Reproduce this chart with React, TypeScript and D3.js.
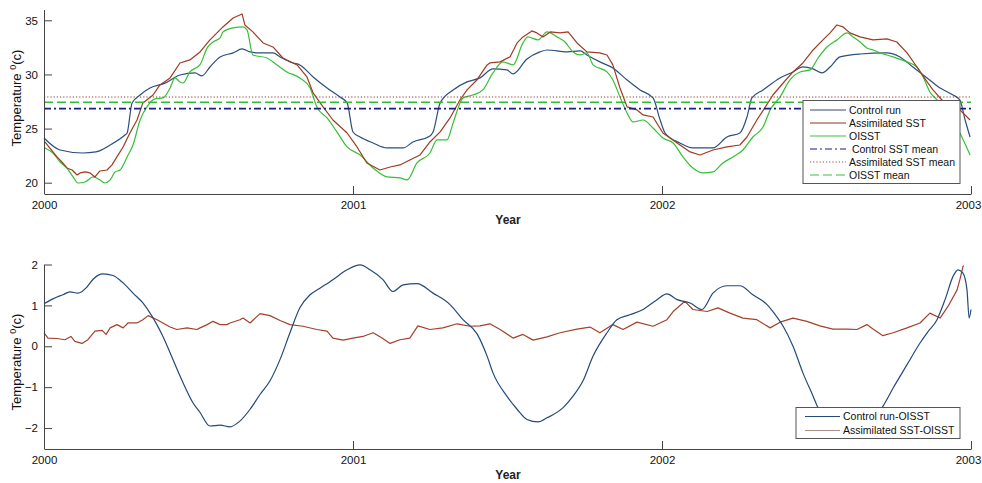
import * as d3 from "d3";
import React, { useRef, useEffect } from "react";

// x ticks (years) and y ticks for both panels
const years = [2000, 2001, 2002, 2003];
const tempTicks = [20, 25, 30, 35];
const diffTicks = [-2, -1, 0, 1, 2];

// top panel: SST time series [decimal year, degC]
const controlRun: [number, number][] = [
  [2000.0, 24.13], [2000.052, 23.02], [2000.126, 22.74], [2000.168, 22.84], [2000.214, 23.48],
  [2000.262, 24.41], [2000.269, 24.59], [2000.285, 27.37], [2000.311, 28.1], [2000.343, 28.75],
  [2000.392, 29.2], [2000.44, 29.95], [2000.489, 30.14], [2000.511, 29.86], [2000.537, 30.69],
  [2000.57, 31.62], [2000.612, 31.99], [2000.641, 32.36], [2000.667, 32.08], [2000.693, 31.99],
  [2000.741, 31.99], [2000.764, 31.62], [2000.806, 31.06], [2000.828, 30.88], [2000.871, 29.77],
  [2000.916, 28.75], [2000.958, 27.92], [2000.981, 27.37], [2001.0, 24.68], [2001.023, 24.22],
  [2001.065, 23.67], [2001.11, 23.21], [2001.162, 23.21], [2001.194, 23.76], [2001.249, 24.32],
  [2001.259, 24.68], [2001.282, 27.37], [2001.324, 28.57], [2001.369, 29.31], [2001.411, 29.68],
  [2001.453, 30.51], [2001.498, 30.42], [2001.518, 30.05], [2001.563, 31.43], [2001.605, 32.08],
  [2001.628, 32.26], [2001.693, 32.08], [2001.735, 32.17], [2001.757, 31.8], [2001.799, 31.16],
  [2001.841, 30.6], [2001.887, 29.49], [2001.929, 28.57], [2001.971, 27.83], [2001.994, 25.79],
  [2002.01, 24.59], [2002.058, 23.67], [2002.1, 23.21], [2002.165, 23.21], [2002.21, 24.22],
  [2002.252, 24.59], [2002.275, 26.07], [2002.291, 27.83], [2002.327, 28.57], [2002.382, 29.68],
  [2002.424, 30.23], [2002.456, 30.69], [2002.489, 30.51], [2002.518, 30.14], [2002.544, 30.69],
  [2002.576, 31.62], [2002.641, 31.89], [2002.728, 31.99], [2002.77, 31.62], [2002.812, 30.69],
  [2002.858, 29.68], [2002.9, 28.75], [2002.942, 28.1], [2002.964, 27.64], [2002.981, 25.79],
  [2002.997, 24.22],
];

const assimilatedSst: [number, number][] = [
  [2000.003, 23.76], [2000.019, 23.2], [2000.042, 22.38], [2000.058, 21.91], [2000.074, 21.36],
  [2000.091, 21.17], [2000.107, 20.71], [2000.117, 20.9], [2000.133, 20.99], [2000.149, 20.9],
  [2000.165, 20.53], [2000.181, 21.08], [2000.204, 21.17], [2000.22, 21.64], [2000.236, 22.38],
  [2000.256, 23.3], [2000.278, 24.59], [2000.301, 25.79], [2000.32, 27.37], [2000.353, 28.1],
  [2000.375, 29.03], [2000.408, 29.68], [2000.44, 31.06], [2000.472, 31.34], [2000.505, 32.08],
  [2000.537, 33.19], [2000.547, 33.47], [2000.579, 34.39], [2000.612, 35.22], [2000.641, 35.59],
  [2000.65, 34.57], [2000.676, 33.93], [2000.709, 32.91], [2000.741, 32.54], [2000.773, 31.52],
  [2000.819, 30.88], [2000.851, 29.77], [2000.871, 28.29], [2000.903, 27.0], [2000.935, 25.79],
  [2000.981, 24.59], [2001.013, 23.3], [2001.045, 21.82], [2001.087, 21.17], [2001.12, 21.45],
  [2001.152, 21.64], [2001.184, 22.1], [2001.217, 22.56], [2001.249, 23.76], [2001.282, 24.69],
  [2001.314, 25.98], [2001.346, 27.64], [2001.369, 28.57], [2001.401, 29.49], [2001.434, 30.88],
  [2001.443, 31.06], [2001.476, 31.16], [2001.508, 31.62], [2001.531, 32.91], [2001.55, 33.47],
  [2001.579, 34.02], [2001.595, 33.84], [2001.615, 33.47], [2001.638, 33.93], [2001.67, 33.84],
  [2001.696, 33.93], [2001.725, 32.91], [2001.757, 32.08], [2001.799, 31.99], [2001.822, 31.8],
  [2001.841, 30.88], [2001.864, 28.75], [2001.887, 27.0], [2001.919, 26.72], [2001.939, 26.26],
  [2001.971, 26.07], [2002.003, 24.59], [2002.049, 23.67], [2002.091, 22.84], [2002.123, 22.56],
  [2002.165, 23.02], [2002.21, 23.3], [2002.252, 23.48], [2002.275, 24.22], [2002.307, 25.79],
  [2002.33, 26.8], [2002.359, 28.1], [2002.392, 29.21], [2002.424, 30.23], [2002.456, 31.06],
  [2002.489, 32.26], [2002.521, 33.19], [2002.544, 33.84], [2002.566, 34.57], [2002.586, 34.39],
  [2002.608, 33.84], [2002.641, 33.47], [2002.683, 33.19], [2002.728, 33.28], [2002.76, 33.0],
  [2002.793, 31.99], [2002.825, 30.69], [2002.858, 29.31], [2002.877, 28.57], [2002.906, 27.64],
  [2002.964, 26.72], [2002.997, 25.79],
];

const oisst: [number, number][] = [
  [2000.003, 23.21], [2000.029, 22.74], [2000.052, 21.91], [2000.074, 21.36], [2000.094, 20.53],
  [2000.11, 19.97], [2000.133, 20.06], [2000.159, 20.53], [2000.181, 20.25], [2000.197, 19.97],
  [2000.214, 20.25], [2000.23, 20.99], [2000.246, 21.17], [2000.269, 22.38], [2000.288, 23.48],
  [2000.311, 25.79], [2000.333, 27.0], [2000.359, 27.74], [2000.385, 27.83], [2000.408, 28.75],
  [2000.424, 29.68], [2000.44, 29.31], [2000.45, 29.21], [2000.472, 30.23], [2000.505, 30.9],
  [2000.528, 32.45], [2000.547, 33.0], [2000.57, 33.37], [2000.579, 33.93], [2000.612, 34.3],
  [2000.644, 34.39], [2000.657, 34.11], [2000.676, 31.8], [2000.722, 31.52], [2000.754, 30.88],
  [2000.786, 30.23], [2000.828, 29.68], [2000.861, 28.75], [2000.883, 27.0], [2000.916, 25.98],
  [2000.948, 24.69], [2000.981, 23.3], [2001.023, 22.56], [2001.065, 21.36], [2001.11, 20.53],
  [2001.152, 20.44], [2001.175, 20.25], [2001.207, 21.82], [2001.249, 22.74], [2001.272, 23.95],
  [2001.304, 23.95], [2001.324, 25.52], [2001.356, 27.83], [2001.388, 28.1], [2001.421, 28.6],
  [2001.453, 30.14], [2001.485, 31.16], [2001.518, 30.88], [2001.55, 32.91], [2001.566, 33.47],
  [2001.599, 33.19], [2001.628, 33.93], [2001.66, 33.47], [2001.686, 33.0], [2001.712, 32.08],
  [2001.735, 31.8], [2001.757, 31.99], [2001.777, 30.88], [2001.822, 30.23], [2001.841, 29.49],
  [2001.864, 27.92], [2001.887, 26.44], [2001.906, 25.61], [2001.939, 25.79], [2001.971, 25.05],
  [2002.003, 24.13], [2002.036, 23.67], [2002.068, 22.38], [2002.1, 21.36], [2002.133, 20.9],
  [2002.165, 20.99], [2002.197, 21.82], [2002.23, 22.38], [2002.262, 23.02], [2002.294, 24.22],
  [2002.327, 25.15], [2002.35, 26.72], [2002.382, 27.92], [2002.414, 29.49], [2002.447, 30.23],
  [2002.479, 30.42], [2002.505, 31.52], [2002.534, 32.54], [2002.566, 33.19], [2002.599, 33.84],
  [2002.618, 33.47], [2002.641, 33.0], [2002.663, 32.45], [2002.683, 32.26], [2002.706, 31.99],
  [2002.748, 31.62], [2002.793, 31.16], [2002.825, 30.69], [2002.845, 29.77], [2002.867, 28.38],
  [2002.89, 27.64], [2002.964, 24.59], [2002.997, 22.56],
];

// horizontal mean lines
const controlMean = 26.84;
const assimilatedMean = 27.92;
const oisstMean = 27.43;

// bottom panel: differences against OISST
const controlMinusOisst: [number, number][] = [
  [2000.0, 1.04], [2000.029, 1.16], [2000.061, 1.26], [2000.084, 1.33], [2000.11, 1.3],
  [2000.139, 1.45], [2000.159, 1.64], [2000.191, 1.77], [2000.223, 1.73], [2000.256, 1.55],
  [2000.288, 1.3], [2000.32, 1.06], [2000.35, 0.73], [2000.385, 0.24], [2000.417, -0.32],
  [2000.45, -0.89], [2000.482, -1.38], [2000.505, -1.62], [2000.537, -1.95], [2000.57, -1.93],
  [2000.602, -1.97], [2000.634, -1.83], [2000.667, -1.54], [2000.699, -1.18], [2000.731, -0.85],
  [2000.764, -0.32], [2000.796, 0.33], [2000.828, 0.94], [2000.861, 1.26], [2000.893, 1.42],
  [2000.935, 1.63], [2000.981, 1.87], [2001.023, 1.99], [2001.055, 1.87], [2001.097, 1.63],
  [2001.129, 1.34], [2001.162, 1.5], [2001.207, 1.53], [2001.259, 1.3], [2001.314, 1.02],
  [2001.356, 0.65], [2001.401, 0.31], [2001.434, -0.24], [2001.453, -0.65], [2001.498, -1.22],
  [2001.531, -1.54], [2001.563, -1.79], [2001.599, -1.85], [2001.628, -1.75], [2001.68, -1.5],
  [2001.712, -1.22], [2001.744, -0.85], [2001.777, -0.24], [2001.822, 0.33], [2001.854, 0.65],
  [2001.896, 0.77], [2001.939, 0.9], [2001.984, 1.14], [2002.016, 1.28], [2002.049, 1.14],
  [2002.091, 1.06], [2002.129, 0.9], [2002.165, 1.3], [2002.21, 1.48], [2002.252, 1.48],
  [2002.294, 1.26], [2002.34, 1.02], [2002.359, 0.85], [2002.382, 0.61], [2002.392, 0.49],
  [2002.424, 0.0], [2002.456, -0.65], [2002.489, -1.22], [2002.505, -1.5], [2002.56, -1.85],
  [2002.608, -2.0], [2002.66, -1.85], [2002.712, -1.5], [2002.748, -1.02], [2002.793, -0.45],
  [2002.835, 0.08], [2002.858, 0.33], [2002.89, 0.65], [2002.916, 1.14], [2002.942, 1.71],
  [2002.958, 1.87], [2002.974, 1.79], [2002.987, 1.38], [2002.994, 0.69], [2003.0, 0.9],
];

const assimilatedMinusOisst: [number, number][] = [
  [2000.0, 0.33], [2000.013, 0.2], [2000.042, 0.19], [2000.068, 0.16], [2000.087, 0.24],
  [2000.1, 0.12], [2000.123, 0.07], [2000.142, 0.16], [2000.165, 0.37], [2000.188, 0.39],
  [2000.201, 0.29], [2000.214, 0.45], [2000.236, 0.53], [2000.256, 0.45], [2000.272, 0.57],
  [2000.301, 0.57], [2000.32, 0.65], [2000.337, 0.75], [2000.366, 0.65], [2000.385, 0.57],
  [2000.408, 0.47], [2000.43, 0.41], [2000.463, 0.45], [2000.495, 0.41], [2000.505, 0.45],
  [2000.528, 0.53], [2000.547, 0.61], [2000.57, 0.53], [2000.592, 0.53], [2000.602, 0.57],
  [2000.634, 0.65], [2000.644, 0.69], [2000.667, 0.57], [2000.699, 0.8], [2000.731, 0.75],
  [2000.764, 0.63], [2000.796, 0.53], [2000.838, 0.49], [2000.883, 0.41], [2000.916, 0.37],
  [2000.935, 0.2], [2000.968, 0.15], [2001.0, 0.2], [2001.032, 0.24], [2001.065, 0.33],
  [2001.094, 0.2], [2001.12, 0.07], [2001.152, 0.16], [2001.184, 0.2], [2001.21, 0.5],
  [2001.249, 0.41], [2001.291, 0.45], [2001.337, 0.55], [2001.379, 0.49], [2001.411, 0.5],
  [2001.443, 0.55], [2001.476, 0.41], [2001.518, 0.2], [2001.55, 0.29], [2001.583, 0.15],
  [2001.628, 0.23], [2001.67, 0.33], [2001.725, 0.42], [2001.767, 0.47], [2001.799, 0.33],
  [2001.841, 0.53], [2001.874, 0.41], [2001.919, 0.59], [2001.971, 0.49], [2002.016, 0.65],
  [2002.036, 0.85], [2002.074, 1.1], [2002.1, 0.9], [2002.146, 0.85], [2002.181, 0.94],
  [2002.22, 0.81], [2002.262, 0.69], [2002.307, 0.65], [2002.35, 0.45], [2002.382, 0.59],
  [2002.424, 0.69], [2002.469, 0.61], [2002.511, 0.5], [2002.553, 0.42], [2002.599, 0.42],
  [2002.631, 0.41], [2002.663, 0.53], [2002.683, 0.42], [2002.715, 0.26], [2002.748, 0.33],
  [2002.793, 0.45], [2002.835, 0.57], [2002.867, 0.81], [2002.9, 0.69], [2002.926, 0.98],
  [2002.955, 1.38], [2002.964, 1.63], [2002.974, 1.95], [2002.977, 1.97],
];

const FONT = "Liberation Sans, Arial, Helvetica, sans-serif";

const App = () => {
  const svgRef = useRef<SVGSVGElement>(null);

  useEffect(() => {
    const svg = d3.select(svgRef.current);
    svg.selectAll("*").remove();

    const x = d3.scaleLinear().domain([2000, 2003]).range([44, 971]);

    const drawPanel = (opts: any) => {
      const { y, ticks, series, means, legend, yLabelY, labelTop } = opts;
      const [bottom] = y.range();
      const g = svg.append("g");

      // series
      series.forEach((s: any) => {
        const line = d3
          .line<[number, number]>()
          .x((d) => x(d[0]))
          .y((d) => y(d[1]))
          .curve(s.curve || d3.curveLinear);
        g.append("path")
          .datum(s.data)
          .attr("d", line)
          .attr("fill", "none")
          .attr("stroke", s.color)
          .attr("stroke-width", 1.2)
          .attr("stroke-linejoin", "round");
      });

      // mean lines
      means.forEach((m: any) => {
        g.append("line")
          .attr("x1", x(2000))
          .attr("x2", x(2003))
          .attr("y1", y(m.value))
          .attr("y2", y(m.value))
          .attr("stroke", m.color)
          .attr("stroke-width", m.width)
          .attr("stroke-dasharray", m.dash);
      });

      // axes, ticks pointing inward
      const yAxis = g
        .append("g")
        .attr("transform", `translate(${x(2000)},0)`)
        .call(
          d3.axisLeft(y).tickValues(ticks).tickFormat(d3.format("d")).tickSize(-8).tickSizeOuter(0).tickPadding(6)
        );
      const xAxis = g
        .append("g")
        .attr("transform", `translate(0,${Math.round(bottom)})`)
        .call(
          d3.axisBottom(x).tickValues(years).tickFormat(d3.format("d")).tickSize(-8).tickSizeOuter(0).tickPadding(7)
        );
      [yAxis, xAxis].forEach((a) => {
        a.select(".domain").attr("stroke", "#444");
        a.selectAll(".tick line").attr("stroke", "#444");
        a.selectAll(".tick text").attr("font-family", FONT).attr("font-size", 11.5).attr("fill", "#111");
      });
      // last year label sits at the page edge, as in the original
      xAxis.selectAll(".tick text").filter((d: any) => d === 2003).attr("dx", -3);

      // axis titles
      g.append("text")
        .attr("x", 508)
        .attr("y", bottom + 30)
        .attr("text-anchor", "middle")
        .attr("font-family", FONT)
        .attr("font-size", 12)
        .attr("font-weight", "bold")
        .attr("fill", "#222")
        .text("Year");

      const yl = g
        .append("text")
        .attr("transform", `translate(21,${yLabelY}) rotate(-90)`)
        .attr("text-anchor", "middle")
        .attr("font-family", FONT)
        .attr("font-size", 13)
        .attr("fill", "#111");
      yl.append("tspan").text("Temperature ");
      yl.append("tspan").attr("dy", -5).attr("font-size", 9).text("0");
      yl.append("tspan").attr("dy", 5).text("(c)");

      // legend
      const lg = g.append("g");
      lg.append("rect")
        .attr("x", legend.x0)
        .attr("y", legend.y0)
        .attr("width", legend.x1 - legend.x0)
        .attr("height", legend.y1 - legend.y0)
        .attr("fill", "#fff")
        .attr("stroke", "#555")
        .attr("stroke-width", 1);
      legend.items.forEach((it: any, i: number) => {
        const ly = labelTop + i * legend.step;
        lg.append("line")
          .attr("x1", legend.lx0)
          .attr("x2", legend.lx1)
          .attr("y1", ly)
          .attr("y2", ly)
          .attr("stroke", it.color)
          .attr("stroke-width", it.width || 1.2)
          .attr("stroke-dasharray", it.dash || null);
        lg.append("text")
          .attr("x", legend.lx1 + 3)
          .attr("y", ly + 3.8)
          .attr("font-family", FONT)
          .attr("font-size", 10.5)
          .attr("fill", "#111")
          .style("white-space", "pre")
          .text(it.label);
      });
    };

    // top panel
    const yTop = d3.scaleLinear().domain([19, 36]).range([193.5, 9.5]);
    const topSeries = [
      { data: controlRun, color: "#2b4f7e", curve: d3.curveMonotoneX },
      { data: oisst, color: "#35c035", curve: d3.curveMonotoneX },
      { data: assimilatedSst, color: "#a03a22" },
    ];
    const topMeans = [
      { value: controlMean, color: "#1b1b8a", width: 1.6, dash: "7,3,2,3" },
      { value: assimilatedMean, color: "#8a3a34", width: 1.1, dash: "1.2,2" },
      { value: oisstMean, color: "#33bb33", width: 1.6, dash: "9,4" },
    ];
    drawPanel({
      y: yTop,
      ticks: tempTicks,
      series: topSeries,
      means: topMeans,
      yLabelY: 98,
      labelTop: 110,
      legend: {
        x0: 803, x1: 960, y0: 100.5, y1: 183.5, lx0: 810, lx1: 846, step: 13,
        items: [
          { label: "Control run", color: "#3a4a66" },
          { label: "Assimilated SST", color: "#8a3422" },
          { label: "OISST", color: "#44c044" },
          { label: " Control SST mean", color: "#1b1b8a", dash: "7,3,2,3" },
          { label: "Assimilated SST mean", color: "#a04a40", dash: "1.2,2" },
          { label: "OISST mean", color: "#44bb44", dash: "9,4" },
        ],
      },
    });

    // bottom panel
    const yBottom = d3.scaleLinear().domain([-2.5, 2]).range([448.5, 264.5]);
    drawPanel({
      y: yBottom,
      ticks: diffTicks,
      series: [
        { data: assimilatedMinusOisst, color: "#a3412a" },
        { data: controlMinusOisst, color: "#24497a", curve: d3.curveMonotoneX },
      ],
      means: [],
      yLabelY: 362,
      labelTop: 416.5,
      legend: {
        x0: 796, x1: 960, y0: 407.5, y1: 438.5, lx0: 805, lx1: 840, step: 14,
        items: [
          { label: "Control run-OISST", color: "#24497a" },
          { label: "Assimilated SST-OISST", color: "#a89088" },
        ],
      },
    });
  }, []);

  return (
    <svg
      ref={svgRef}
      width={982}
      height={483}
      style={{ position: "absolute", left: 0, top: 0, background: "#fff" }}
    ></svg>
  );
};

export default App;
